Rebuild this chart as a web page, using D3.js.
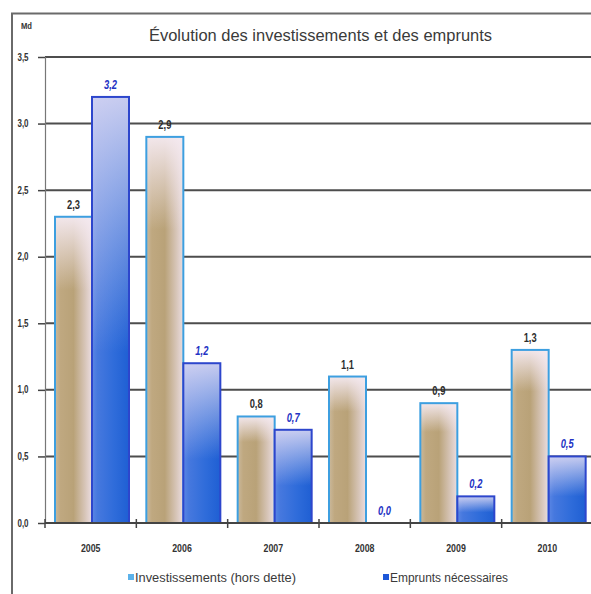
<!DOCTYPE html>
<html>
<head>
<meta charset="utf-8">
<script src="https://cdn.jsdelivr.net/npm/d3@7"></script>
<style>
  html, body { margin: 0; padding: 0; background: #fff; }
  svg { display: block; }
  text { font-family: "Liberation Sans", Arial, sans-serif; }
</style>
</head>
<body>
<script>
// Investissements et emprunts, en milliards
const years = ["2005", "2006", "2007", "2008", "2009", "2010"];
const investissements = [2.3, 2.9, 0.8, 1.1, 0.9, 1.3];
const emprunts = [3.2, 1.2, 0.7, 0.0, 0.2, 0.5];
const yTicks = [0, 0.5, 1, 1.5, 2, 2.5, 3, 3.5];
const seriesNames = ["Investissements (hors dette)", "Emprunts nécessaires"];
const titleText = "Évolution des investissements et des emprunts";
const unitText = "Md";

const W = 591, H = 594;
const fmt = v => d3.format(".1f")(v).replace(".", ",");

const svg = d3.select("body").append("svg")
  .attr("width", W).attr("height", H);

const defs = svg.append("defs");

// Horizontal shading of the bars
function hGrad(id, stops) {
  const g = defs.append("linearGradient").attr("id", id)
    .attr("x1", 0).attr("y1", 0).attr("x2", 1).attr("y2", 0);
  stops.forEach(s => g.append("stop").attr("offset", s[0]).attr("stop-color", s[1]));
}
// Light sheen fading down from the top of the bars
function vGrad(id, color, op, end) {
  const g = defs.append("linearGradient").attr("id", id)
    .attr("x1", 0).attr("y1", 0).attr("x2", 0).attr("y2", 1);
  g.append("stop").attr("offset", 0).attr("stop-color", color).attr("stop-opacity", op);
  g.append("stop").attr("offset", end).attr("stop-color", color).attr("stop-opacity", 0);
}
hGrad("invH", [[0, "#cbb99c"], [0.15, "#bfa880"], [0.5, "#b9a278"], [0.8, "#d6c4b6"], [1, "#ebdde1"]]);
vGrad("invV", "#f5eaf1", 0.95, 0.24);
hGrad("empH", [[0, "#5a86e4"], [0.15, "#4678de"], [0.6, "#2f6cda"], [1, "#1f5fd3"]]);
vGrad("empV", "#e4def4", 0.85, 0.6);

// Frame
svg.append("path")
  .attr("d", `M12,${H} L12,13.5 L${W},13.5`)
  .attr("fill", "none").attr("stroke", "#6a6a6a").attr("stroke-width", 2);

const x0 = d3.scaleBand().domain(years).range([45, 593]).padding(0);
const x1 = d3.scaleBand().domain([0, 1]).range([10, 84]).padding(0);
const y = d3.scaleLinear().domain([0, 3.5]).range([523, 57]);

// Gridlines
svg.append("g").selectAll("line").data(yTicks.filter(d => d > 0)).join("line")
  .attr("x1", 45).attr("x2", W)
  .attr("y1", d => y(d)).attr("y2", d => y(d))
  .attr("stroke", "#4d4d4d").attr("stroke-width", 2);

// Y axis
const yAxis = svg.append("g").attr("transform", "translate(45,0)")
  .call(d3.axisLeft(y).tickValues(yTicks).tickSize(7).tickFormat(""));
yAxis.select(".domain").attr("stroke", "#777").attr("stroke-width", 1.2);
yAxis.selectAll(".tick line").attr("stroke", "#444").attr("stroke-width", 1.5);

svg.append("g").selectAll("text").data(yTicks).join("text")
  .attr("transform", d => `translate(23,${y(d) + 3.5}) scale(0.8,1)`)
  .attr("text-anchor", "middle")
  .attr("font-size", 10).attr("font-weight", "bold").attr("fill", "#333")
  .text(fmt);

svg.append("text")
  .attr("transform", "translate(21,29) scale(0.85,1)")
  .attr("font-size", 9).attr("font-weight", "bold").attr("fill", "#333")
  .text(unitText);

// Title
svg.append("text")
  .attr("x", 149).attr("y", 41)
  .attr("font-size", 16).attr("fill", "#3a3a3a")
  .attr("textLength", 343).attr("lengthAdjust", "spacingAndGlyphs")
  .text(titleText);

// Bars
const rows = years.map((yr, i) => ({ yr, vals: [investissements[i], emprunts[i]] }));
const groups = svg.append("g").selectAll("g").data(rows).join("g")
  .attr("transform", d => `translate(${x0(d.yr)},0)`);

const fills = [["url(#invH)", "url(#invV)", "#3d9fe0"], ["url(#empH)", "url(#empV)", "#2d46cc"]];

groups.each(function (d) {
  const g = d3.select(this);
  d.vals.forEach((v, k) => {
    const bx = x1(k), bw = x1.bandwidth();
    if (v > 0) {
      g.append("rect").attr("x", bx).attr("y", y(v)).attr("width", bw).attr("height", y(0) - y(v))
        .attr("fill", fills[k][0]);
      g.append("rect").attr("x", bx).attr("y", y(v)).attr("width", bw).attr("height", y(0) - y(v))
        .attr("fill", fills[k][1]).attr("stroke", fills[k][2]).attr("stroke-width", 2);
    }
    g.append("text")
      .attr("transform", `translate(${bx + bw / 2},${y(v) - 8}) scale(0.78,1)`)
      .attr("text-anchor", "middle")
      .attr("font-size", 12).attr("font-weight", "bold")
      .attr("font-style", k === 1 ? "italic" : "normal")
      .attr("fill", k === 1 ? "#2433c4" : "#2e2e2e")
      .text(fmt(v));
  });
});

// X axis
svg.append("line").attr("x1", 45).attr("x2", W).attr("y1", y(0)).attr("y2", y(0))
  .attr("stroke", "#444").attr("stroke-width", 2);
svg.append("g").selectAll("line").data(years).join("line")
  .attr("x1", d => x0(d)).attr("x2", d => x0(d))
  .attr("y1", y(0) - 4).attr("y2", y(0) + 5)
  .attr("stroke", "#444").attr("stroke-width", 1.5);
svg.append("g").selectAll("text").data(years).join("text")
  .attr("transform", d => `translate(${x0(d) + x0.bandwidth() / 2},${552}) scale(0.8,1)`)
  .attr("text-anchor", "middle")
  .attr("font-size", 11).attr("font-weight", "bold").attr("fill", "#333")
  .text(d => d);

// Legend
const legend = [
  { name: seriesNames[0], color: "#5cb2ea", x: 128, w: 168 },
  { name: seriesNames[1], color: "#1d57d8", x: 383, w: 125 }
];
const lg = svg.append("g").selectAll("g").data(legend).join("g");
lg.append("rect").attr("x", d => d.x).attr("y", 574).attr("width", 6).attr("height", 6)
  .attr("fill", d => d.color);
lg.append("text").attr("x", d => d.x + 7).attr("y", 582)
  .attr("font-size", 12).attr("fill", "#3a3a3a")
  .attr("textLength", d => d.w - 7).attr("lengthAdjust", "spacingAndGlyphs")
  .text(d => d.name);
</script>
</body>
</html>
